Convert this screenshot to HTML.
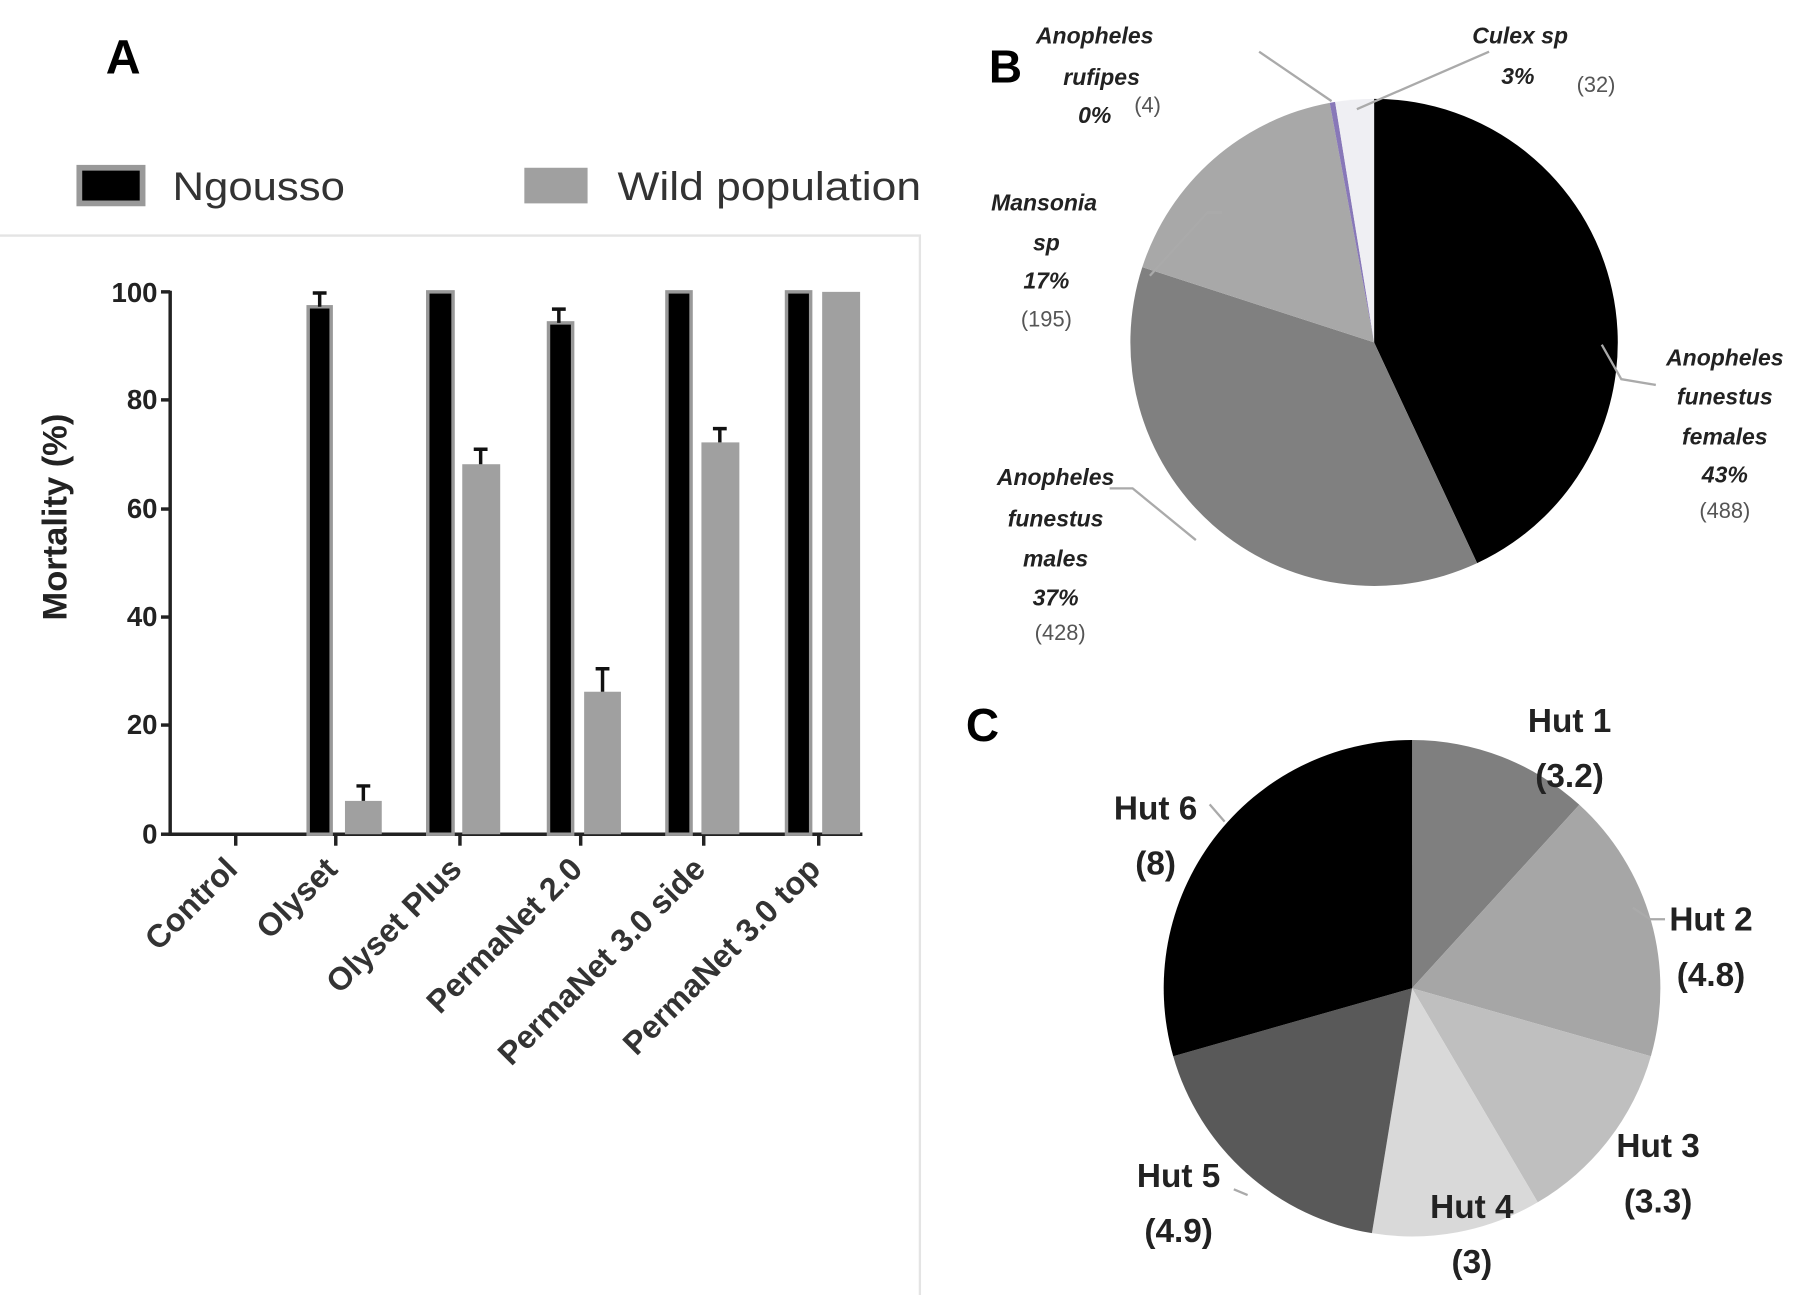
<!DOCTYPE html>
<html><head><meta charset="utf-8"><style>html,body{margin:0;padding:0;background:#fff;}svg{display:block}</style></head>
<body>
<svg width="1803" height="1295" viewBox="0 0 1568 1127" preserveAspectRatio="none" xmlns="http://www.w3.org/2000/svg" font-family="Liberation Sans, sans-serif">
<rect width="1568" height="1127" fill="#fff"/>
<!-- Panel A -->
<text x="92" y="64" font-size="42" font-weight="bold">A</text>
<rect x="69" y="146" width="55" height="31" fill="#000" stroke="#999" stroke-width="5"/>
<text x="150" y="174" font-size="35" fill="#333" textLength="150" lengthAdjust="spacingAndGlyphs">Ngousso</text>
<rect x="456" y="146" width="55" height="31" fill="#a0a0a0"/>
<text x="537" y="174" font-size="35" fill="#333" textLength="264" lengthAdjust="spacingAndGlyphs">Wild population</text>
<path d="M0 205 H800 V1127" fill="none" stroke="#e4e4e4" stroke-width="2"/>
<g font-size="24" font-weight="bold" text-anchor="end" fill="#222">
<text x="137" y="263">100</text><text x="137" y="356">80</text><text x="137" y="451">60</text>
<text x="137" y="545">40</text><text x="137" y="639">20</text><text x="137" y="734">0</text>
</g>
<g stroke="#222" stroke-width="3">
<line x1="148" y1="253" x2="148" y2="727"/>
<line x1="146" y1="726" x2="750" y2="726"/>
<line x1="140" y1="254" x2="148" y2="254"/><line x1="140" y1="348" x2="148" y2="348"/>
<line x1="140" y1="443" x2="148" y2="443"/><line x1="140" y1="537" x2="148" y2="537"/>
<line x1="140" y1="631" x2="148" y2="631"/><line x1="140" y1="726" x2="148" y2="726"/>
<line x1="205" y1="726" x2="205" y2="736"/><line x1="292" y1="726" x2="292" y2="736"/>
<line x1="400" y1="726" x2="400" y2="736"/><line x1="505" y1="726" x2="505" y2="736"/>
<line x1="612" y1="726" x2="612" y2="736"/><line x1="712" y1="726" x2="712" y2="736"/>
</g>
<text transform="translate(58,450) rotate(-90)" font-size="30" font-weight="bold" text-anchor="middle" fill="#222">Mortality (%)</text>
<g fill="#000" stroke="#999" stroke-width="3">
<rect x="268" y="267" width="20" height="459"/>
<rect x="372" y="254" width="22" height="472"/>
<rect x="477" y="281" width="21" height="445"/>
<rect x="580" y="254" width="21" height="472"/>
<rect x="684" y="254" width="21" height="472"/>
</g>
<g fill="#a0a0a0">
<rect x="300" y="697" width="32" height="29"/>
<rect x="402" y="404" width="33" height="322"/>
<rect x="508" y="602" width="32" height="124"/>
<rect x="610" y="385" width="33" height="341"/>
<rect x="715" y="254" width="33" height="472"/>
</g>
<g stroke="#111" stroke-width="3" fill="none">
<path d="M278 267V255M272 255H284"/><path d="M486 281V269M480 269H492"/>
<path d="M316 697V684M310 684H322"/><path d="M418 404V391M412 391H424"/>
<path d="M524 602V582M518 582H530"/><path d="M626 385V373M620 373H632"/>
</g>
<g font-size="28" font-weight="bold" fill="#333" text-anchor="end">
<text transform="translate(208,758) rotate(-45)">Control</text>
<text transform="translate(295,758) rotate(-45)">Olyset</text>
<text transform="translate(403,758) rotate(-45)">Olyset Plus</text>
<text transform="translate(508,758) rotate(-45)">PermaNet 2.0</text>
<text transform="translate(615,758) rotate(-45)">PermaNet 3.0 side</text>
<text transform="translate(715,758) rotate(-45)">PermaNet 3.0 top</text>
</g>
<!-- Panel B -->
<text x="860" y="72" font-size="40" font-weight="bold">B</text>
<path d="M1195 298 L1195 86 A212 212 0 0 1 1284.6 490.1 Z" fill="#000"/>
<path d="M1195 298 L1284.6 490.1 A212 212 0 0 1 993.4 232.5 Z" fill="#808080"/>
<path d="M1195 298 L993.4 232.5 A212 212 0 0 1 1156.4 89.5 Z" fill="#a8a8a8"/>
<path d="M1195 298 L1156.4 89.5 A212 212 0 0 1 1161.1 88.7 Z" fill="#8878b8"/>
<path d="M1195 298 L1161.1 88.7 A212 212 0 0 1 1195 86 Z" fill="#efeff3"/>
<g stroke="#aaa" stroke-width="2" fill="none">
<path d="M1095 45 L1158 88"/><path d="M1295 45 L1180 95"/>
<path d="M1063 185 L1050 185 L1000 240"/>
<path d="M1393 300 L1410 330 L1440 335"/>
<path d="M965 425 L985 425 L1040 470"/>
</g>
<g font-size="20" font-weight="bold" font-style="italic" fill="#222" text-anchor="middle">
<text x="952" y="38">Anopheles</text><text x="958" y="74">rufipes</text><text x="952" y="107">0%</text>
<text x="1322" y="38">Culex sp</text><text x="1320" y="73">3%</text>
<text x="908" y="183">Mansonia</text><text x="910" y="218">sp</text><text x="910" y="251">17%</text>
<text x="1500" y="318">Anopheles</text><text x="1500" y="352">funestus</text><text x="1500" y="387">females</text><text x="1500" y="420">43%</text>
<text x="918" y="422">Anopheles</text><text x="918" y="458">funestus</text><text x="918" y="493">males</text><text x="918" y="527">37%</text>
</g>
<g font-size="19" fill="#555" text-anchor="middle">
<text x="998" y="98">(4)</text><text x="1388" y="80">(32)</text>
<text x="910" y="284">(195)</text><text x="1500" y="451">(488)</text><text x="922" y="557">(428)</text>
</g>
<!-- Panel C -->
<text x="840" y="645" font-size="40" font-weight="bold">C</text>
<path d="M1228 860 L1228 644 A216 216 0 0 1 1373.5 700.4 Z" fill="#7f7f7f"/>
<path d="M1228 860 L1373.5 700.4 A216 216 0 0 1 1435.7 919.2 Z" fill="#a6a6a6"/>
<path d="M1228 860 L1435.7 919.2 A216 216 0 0 1 1337.3 1046.3 Z" fill="#bfbfbf"/>
<path d="M1228 860 L1337.3 1046.3 A216 216 0 0 1 1193.1 1073.2 Z" fill="#d9d9d9"/>
<path d="M1228 860 L1193.1 1073.2 A216 216 0 0 1 1020.3 919.2 Z" fill="#595959"/>
<path d="M1228 860 L1020.3 919.2 A216 216 0 0 1 1228 644 Z" fill="#000"/>
<g stroke="#aaa" stroke-width="2" fill="none">
<path d="M1052 700 L1065 715"/><path d="M1420 790 L1435 800 L1448 800"/>
<path d="M1073 1035 L1085 1040"/>
</g>
<g font-size="29" font-weight="bold" fill="#222" text-anchor="middle">
<text x="1365" y="637">Hut 1</text><text x="1365" y="685">(3.2)</text>
<text x="1488" y="810">Hut 2</text><text x="1488" y="858">(4.8)</text>
<text x="1442" y="1007">Hut 3</text><text x="1442" y="1055">(3.3)</text>
<text x="1280" y="1060">Hut 4</text><text x="1280" y="1108">(3)</text>
<text x="1025" y="1033">Hut 5</text><text x="1025" y="1081">(4.9)</text>
<text x="1005" y="713">Hut 6</text><text x="1005" y="761">(8)</text>
</g>
</svg>
</body></html>
